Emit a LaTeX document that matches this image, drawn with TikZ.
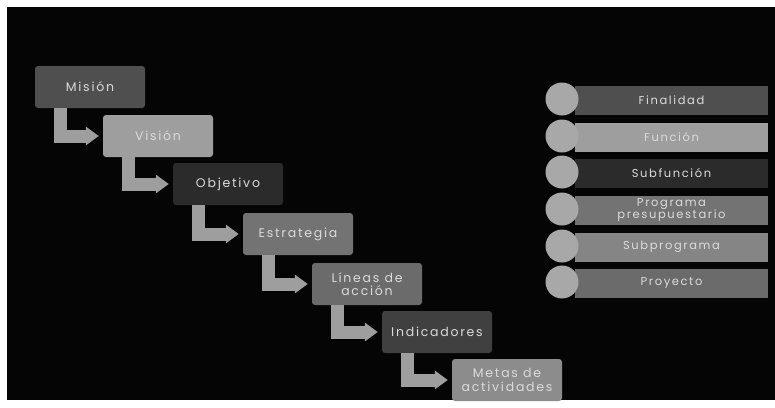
\documentclass[tikz,border=0pt]{standalone}
\usepackage{fontspec}
\setmainfont[LetterSpace=14]{Poppins}
\usetikzlibrary{positioning, arrows.meta}
\definecolor{fondo}{gray}{0.02}
\definecolor{grisA}{gray}{0.31}
\definecolor{grisB}{gray}{0.62}
\definecolor{grisC}{gray}{0.17}
\definecolor{grisD}{gray}{0.45}
\definecolor{grisE}{gray}{0.42}
\definecolor{grisF}{gray}{0.25}
\definecolor{grisG}{gray}{0.55}
\definecolor{grisH}{gray}{0.52}
\definecolor{flechagris}{gray}{0.62}
\definecolor{bolagris}{gray}{0.66}
\definecolor{letra}{gray}{0.86}
\tikzset{
  etapa/.style={rectangle, rounded corners=3pt, minimum width=110pt, minimum height=42pt,
    inner sep=1pt, align=center, text=letra, font=\fontsize{12.5}{13.5}\selectfont},
  flecha/.style={draw=flechagris, line width=13pt, miter limit=10, shorten >=4pt,
    -{Triangle[width=18pt,length=13pt]}},
  barra/.style={rectangle, minimum width=193pt, minimum height=29pt, inner sep=1pt,
    align=center, text=letra, font=\fontsize{11.5}{11.5}\selectfont},
  bola/.style={circle, fill=bolagris, minimum size=33pt, inner sep=0pt}
}

\begin{document}
\begin{tikzpicture}[x=1pt, y=-1pt]
  \useasboundingbox[fill=white] (0,0) rectangle (775,407);
  \fill[fondo] (7,7) rectangle (775,400);
  % cascada
  \node[etapa, fill=grisA] (mision)      at (90, 87)  {Misión};
  \node[etapa, fill=grisB] (vision)      at (158,136) {Visión};
  \node[etapa, fill=grisC] (objetivo)    at (228,184) {Objetivo};
  \node[etapa, fill=grisD] (estrategia)  at (298,234) {Estrategia};
  \node[etapa, fill=grisE] (lineas)      at (367,284) {Líneas de\\acción};
  \node[etapa, fill=grisF] (indicadores) at (437,332) {Indicadores};
  \node[etapa, fill=grisG] (metas)       at (507,380) {Metas de\\actividades};
  \draw[flecha] ([xshift=26pt]mision.south west)      |- (vision.west);
  \draw[flecha] ([xshift=26pt]vision.south west)      |- (objetivo.west);
  \draw[flecha] ([xshift=26pt]objetivo.south west)    |- (estrategia.west);
  \draw[flecha] ([xshift=26pt]estrategia.south west)  |- (lineas.west);
  \draw[flecha] ([xshift=26pt]lineas.south west)      |- (indicadores.west);
  \draw[flecha] ([xshift=26pt]indicadores.south west) |- (metas.west);
  % clasificacion
  \node[barra, fill=grisA] (finalidad)   at (671.5,100) {Finalidad};
  \node[barra, fill=grisB] (funcion)     at (671.5,137) {Función};
  \node[barra, fill=grisC] (subfuncion)  at (671.5,173) {Subfunción};
  \node[barra, fill=grisD] (programa)    at (671.5,210) {Programa\\presupuestario};
  \node[barra, fill=grisH] (subprograma) at (671.5,247) {Subprograma};
  \node[barra, fill=grisE] (proyecto)    at (671.5,283) {Proyecto};
  \node[bola] (b1) at (562,99)  {};
  \node[bola] (b2) at (562,136) {};
  \node[bola] (b3) at (562,172) {};
  \node[bola] (b4) at (562,209) {};
  \node[bola] (b5) at (562,246) {};
  \node[bola] (b6) at (562,282) {};
\end{tikzpicture}
\end{document}
